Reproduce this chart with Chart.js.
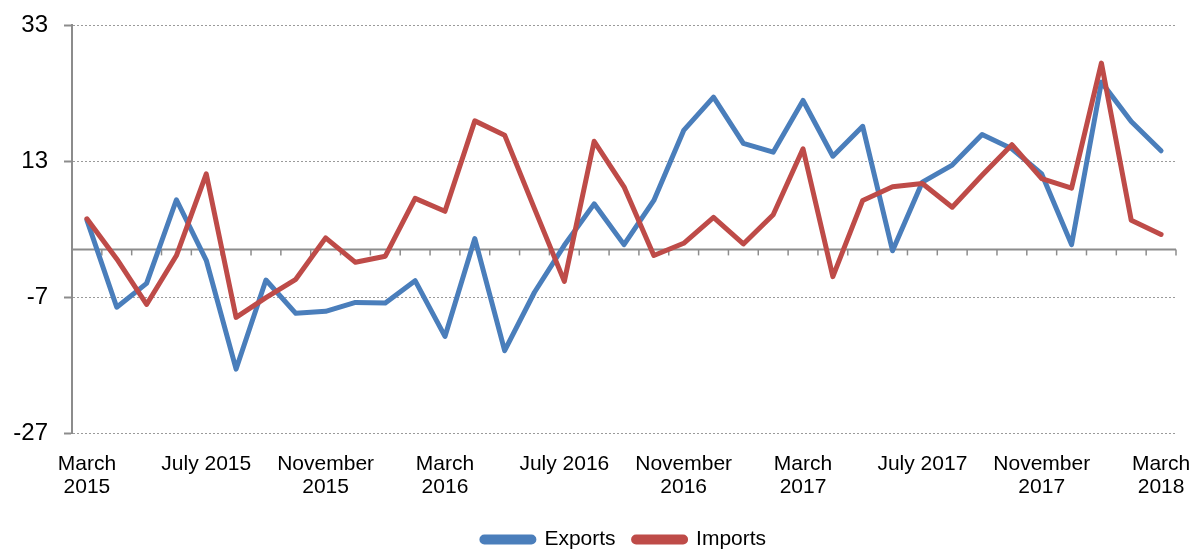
<!DOCTYPE html>
<html lang="en">
<head>
   <meta charset="UTF-8">
   <title>Exports and Imports</title>
   <script src="https://cdn.jsdelivr.net/npm/chart.js@4.4.0/dist/chart.umd.min.js"></script>
   <style>
       body {
           margin: 0;
           background: white;
       }
       .wrap {
           width: 1198px;
           height: 550px;
       }
   </style>
</head>
<body>
   <div class="wrap">
       <canvas id="chart" width="1198" height="550"></canvas>
   </div>

   <script>
       const months = [
           'Mar 2015', 'Apr 2015', 'May 2015', 'Jun 2015', 'Jul 2015', 'Aug 2015', 'Sep 2015', 'Oct 2015',
           'Nov 2015', 'Dec 2015', 'Jan 2016', 'Feb 2016', 'Mar 2016', 'Apr 2016', 'May 2016', 'Jun 2016',
           'Jul 2016', 'Aug 2016', 'Sep 2016', 'Oct 2016', 'Nov 2016', 'Dec 2016', 'Jan 2017', 'Feb 2017',
           'Mar 2017', 'Apr 2017', 'May 2017', 'Jun 2017', 'Jul 2017', 'Aug 2017', 'Sep 2017', 'Oct 2017',
           'Nov 2017', 'Dec 2017', 'Jan 2018', 'Feb 2018', 'Mar 2018'
       ];

       // label shown every 4th month
       const tickLabels = [
           ['March', '2015'], 'July 2015', ['November', '2015'], ['March', '2016'], 'July 2016',
           ['November', '2016'], ['March', '2017'], 'July 2017', ['November', '2017'], ['March', '2018']
       ];

       const exportsData = [
           4.3, -8.5, -5.0, 7.3, -1.6, -17.6, -4.5, -9.4, -9.1, -7.8, -7.9, -4.6, -12.8,
           1.6, -14.9, -6.3, 0.6, 6.7, 0.7, 7.2, 17.5, 22.4, 15.6, 14.3, 21.9, 13.7, 18.1,
           -0.2, 9.9, 12.4, 16.9, 14.8, 11.1, 0.7, 24.6, 18.8, 14.5
       ];

       const importsData = [
           4.5, -1.4, -8.1, -0.9, 11.1, -10.0, -7.1, -4.4, 1.7, -1.9, -1.0, 7.5, 5.6,
           18.9, 16.8, 6.0, -4.7, 15.9, 9.2, -0.9, 0.9, 4.7, 0.8, 5.1, 14.8, -4.0, 7.2,
           9.2, 9.7, 6.2, 10.9, 15.4, 10.4, 9.0, 27.4, 4.3, 2.2
       ];

       const yTicks = [-27, -7, 13, 33];

       const axisGray = '#8c8c8c';
       const font = 'Liberation Sans, Arial, sans-serif';

       // zero line with small tick marks between months
       const zeroLine = {
           id: 'zeroLine',
           beforeDatasetsDraw(chart) {
               const ctx = chart.ctx;
               const x = chart.scales.x;
               const y0 = chart.scales.y.getPixelForValue(0);
               const area = chart.chartArea;
               ctx.save();
               ctx.strokeStyle = axisGray;
               ctx.lineWidth = 2;
               ctx.beginPath();
               ctx.moveTo(area.left, y0);
               ctx.lineTo(area.right, y0);
               ctx.stroke();
               ctx.lineWidth = 1.5;
               for (let i = 0; i <= months.length; i++) {
                   let px;
                   if (i === 0) px = area.left;
                   else if (i === months.length) px = area.right;
                   else px = (x.getPixelForValue(i - 1) + x.getPixelForValue(i)) / 2;
                   ctx.beginPath();
                   ctx.moveTo(px, y0);
                   ctx.lineTo(px, y0 + 6);
                   ctx.stroke();
               }
               ctx.restore();
           }
       };

       new Chart(document.getElementById('chart'), {
           type: 'line',
           data: {
               labels: months,
               datasets: [{
                   label: 'Exports',
                   data: exportsData,
                   borderColor: '#4a7ebb',
                   backgroundColor: '#4a7ebb',
                   borderWidth: 5,
                   pointRadius: 0,
                   tension: 0,
                   borderJoinStyle: 'round',
                   borderCapStyle: 'round',
                   order: 2
               }, {
                   label: 'Imports',
                   data: importsData,
                   borderColor: '#be4b48',
                   backgroundColor: '#be4b48',
                   borderWidth: 5,
                   pointRadius: 0,
                   tension: 0,
                   borderJoinStyle: 'round',
                   borderCapStyle: 'round',
                   order: 1
               }]
           },
           options: {
               responsive: false,
               animation: false,
               layout: {
                   padding: { top: 25, right: 22, left: 0, bottom: -10 }
               },
               plugins: {
                   tooltip: { enabled: false },
                   legend: {
                       position: 'bottom',
                       fullSize: false,
                       labels: {
                           sort: (a, b) => a.datasetIndex - b.datasetIndex,
                           boxWidth: 52,
                           boxHeight: 5,
                           useBorderRadius: true,
                           borderRadius: 2.5,
                           color: '#000',
                           padding: 18,
                           font: { family: font, size: 21 }
                       }
                   }
               },
               scales: {
                   x: {
                       offset: true,
                       grid: { display: false },
                       border: { display: false },
                       afterFit: (scale) => {
                           scale.height = 78;
                           scale.paddingLeft = 0;
                           scale.paddingRight = 0;
                       },
                       ticks: {
                           autoSkip: false,
                           maxRotation: 0,
                           padding: 11,
                           color: '#000',
                           font: { family: font, size: 21, lineHeight: 1.12 },
                           callback: (value, i) => i % 4 === 0 ? tickLabels[i / 4] : null
                       }
                   },
                   y: {
                       min: -27,
                       max: 33,
                       afterFit: (scale) => {
                           scale.width = 72;
                           scale.paddingTop = 0;
                           scale.paddingBottom = 0;
                       },
                       afterBuildTicks: (scale) => {
                           scale.ticks = yTicks.map(v => ({ value: v }));
                       },
                       grid: {
                           color: '#9a9a9a',
                           lineWidth: 1,
                           tickColor: axisGray,
                           tickLength: 8,
                           tickWidth: 2
                       },
                       border: {
                           display: true,
                           color: axisGray,
                           width: 2,
                           dash: [2, 2]
                       },
                       ticks: {
                           padding: 16,
                           color: '#000',
                           font: { family: font, size: 24 }
                       }
                   }
               }
           },
           plugins: [zeroLine]
       });
   </script>
</body>
</html>
